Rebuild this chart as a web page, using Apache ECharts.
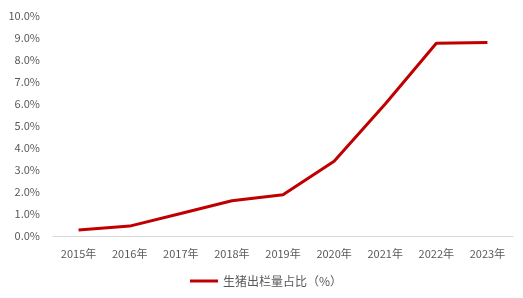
<!DOCTYPE html>
<html><head><meta charset="utf-8">
<script src="https://cdn.jsdelivr.net/npm/echarts@6/dist/echarts.min.js"></script>
<style>html,body{margin:0;padding:0;background:#fff}#c{width:523px;height:298px}</style>
</head><body><div id="c"></div>
<script>
var categories = ['2015年','2016年','2017年','2018年','2019年','2020年','2021年','2022年','2023年'];
var seriesName = '生猪出栏量占比（%）';
var values = [0.27, 0.45, 1.02, 1.6, 1.88, 3.4, 6.0, 8.76, 8.79];
var yMin = 0, yMax = 10, yStep = 1;

var chart = echarts.init(document.getElementById('c'));
var font = '"Noto Sans CJK SC", "Microsoft YaHei", sans-serif';
chart.setOption({
  animation: false,
  grid: {left: 53, right: 10, top: 16, bottom: 62},
  legend: {
    data: [seriesName], bottom: 6, left: 185,
    itemWidth: 28, itemHeight: 3, icon: 'rect', itemGap: 4,
    textStyle: {color: '#595959', fontSize: 12, fontFamily: font}
  },
  xAxis: {
    type: 'category', data: categories, boundaryGap: true,
    axisLine: {lineStyle: {color: '#d9d9d9', width: 1}},
    axisTick: {show: false},
    axisLabel: {color: '#595959', fontSize: 11, fontFamily: font, margin: 12}
  },
  yAxis: {
    type: 'value', min: yMin, max: yMax, interval: yStep,
    axisLine: {show: false}, axisTick: {show: false},
    splitLine: {show: false},
    axisLabel: {color: '#595959', fontSize: 11, fontFamily: font, margin: 13,
      formatter: function(v){ return v.toFixed(1) + '%'; }}
  },
  series: [{
    name: seriesName, type: 'line', data: values,
    symbol: 'none', lineStyle: {color: '#C00000', width: 3},
    itemStyle: {color: '#C00000'}
  }]
});
</script></body></html>
